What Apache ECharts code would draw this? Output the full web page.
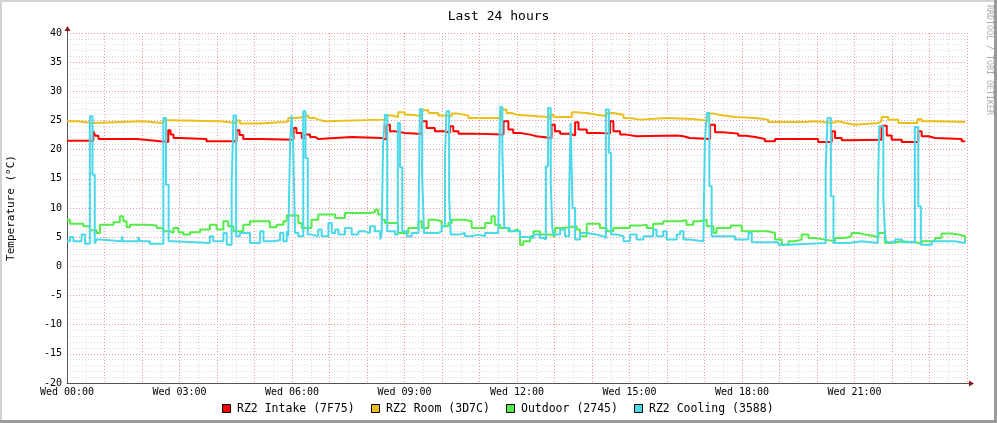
<!DOCTYPE html>
<html><head><meta charset="utf-8">
<script src="https://cdn.jsdelivr.net/npm/echarts@6/dist/echarts.min.js"></script>
<style>html,body{margin:0;padding:0;background:#fff}#c{width:997px;height:423px}</style>
</head><body><div id="c"></div>
<script>
// ---- data (hours since Wed 00:00, °C) ----
const seriesNames = ['RZ2 Intake (7F75)', 'RZ2 Room (3D7C)', 'Outdoor (2745)', 'RZ2 Cooling (3588)'];
const seriesColors = ['#FF0000', '#EAC11C', '#54EC48', '#4AD9EA'];
const xLabelHours = [0, 3, 6, 9, 12, 15, 18, 21];
const xLabelTexts = ['Wed 00:00', 'Wed 03:00', 'Wed 06:00', 'Wed 09:00', 'Wed 12:00', 'Wed 15:00', 'Wed 18:00', 'Wed 21:00'];
const yTicks = [-20, -15, -10, -5, 0, 5, 10, 15, 20, 25, 30, 35, 40];

const intake = [[0,21.55],[0.70,23.2],[0.75,22.4],[0.84,21.84],[1.86,21.61],[2.21,21.32],[2.70,23.32],[2.76,22.6],[2.84,22.0],[3.01,21.84],[3.72,21.44],[4.52,23.32],[4.60,22.5],[4.70,21.84],[5.15,21.72],[6.04,23.72],[6.12,22.87],[6.26,22.0],[6.35,22.6],[6.48,22.18],[6.61,21.84],[6.70,22.18],[7.59,22.0],[8.39,21.72],[8.52,24.29],[8.61,23.15],[8.75,22.87],[9.01,22.69],[9.46,24.87],[9.59,23.72],[9.81,23.15],[10.08,22.87],[10.21,24.0],[10.30,23.15],[10.44,22.75],[10.79,22.58],[11.64,24.87],[11.77,23.44],[11.9,22.87],[12.08,22.58],[12.35,22.29],[12.52,22.0],[12.92,24.29],[13.01,23.15],[13.15,22.75],[13.41,22.41],[13.55,24.69],[13.64,23.44],[13.86,22.87],[14.21,22.75],[14.48,24.87],[14.57,23.15],[14.75,22.58],[14.92,22.29],[15.19,22.41],[16.26,22.29],[16.44,22.0],[16.61,21.84],[17.15,24.29],[17.28,22.98],[17.50,22.75],[17.9,22.4],[18.1,22.18],[18.35,21.84],[18.61,21.44],[18.88,21.84],[20.03,21.32],[20.39,23.15],[20.48,22.0],[20.66,21.61],[20.84,21.72],[21.72,24.12],[21.86,22.41],[21.99,21.72],[22.26,21.32],[22.70,23.15],[22.79,22.29],[22.97,22.0],[23.15,21.84],[23.86,21.44],[23.95,21.44]];

const room = [[0,24.87],[0.26,24.58],[0.70,24.87],[2.04,24.7],[2.30,24.58],[2.57,25.04],[2.75,24.87],[4.08,24.58],[4.52,24.98],[4.61,24.47],[5.15,24.75],[5.81,24.87],[5.90,25.44],[6.08,25.61],[6.35,25.84],[6.44,25.44],[6.61,25.15],[6.70,24.87],[6.88,25.15],[8.48,25.84],[8.66,25.61],[8.83,26.41],[9.01,26.0],[9.19,25.72],[9.46,26.75],[9.64,26.29],[9.90,25.84],[10.17,25.72],[10.26,26.18],[10.44,25.84],[10.70,25.44],[11.50,25.27],[11.59,26.87],[11.72,26.29],[11.85,26.0],[11.99,25.84],[12.26,25.61],[12.79,25.27],[12.88,26.0],[12.97,25.61],[13.46,26.41],[13.59,26.29],[13.86,26.0],[14.12,25.72],[14.39,26.29],[14.57,26.0],[14.84,25.44],[15.01,25.15],[15.28,25.44],[15.99,25.27],[16.70,25.04],[16.97,24.87],[17.10,26.18],[17.24,25.84],[17.50,25.61],[17.81,25.44],[18.35,25.15],[18.70,24.75],[19.68,24.87],[19.95,24.58],[20.39,24.87],[20.57,24.58],[20.75,24.29],[21.01,24.58],[21.64,24.87],[21.72,25.61],[21.90,25.15],[22.17,24.58],[22.68,25.27],[22.79,24.87],[23.15,24.75],[23.95,24.75]];

const outdoor = [[0,8.0],[0.08,7.32],[0.44,6.87],[0.61,6.18],[0.79,5.72],[0.88,7.15],[1.24,7.55],[1.41,8.58],[1.50,7.72],[1.59,6.69],[1.68,7.15],[2.12,6.98],[2.39,6.58],[2.57,6.0],[2.75,5.72],[2.84,6.58],[2.97,5.84],[3.10,5.44],[3.28,5.84],[3.55,6.3],[3.81,7.15],[3.99,6.3],[4.17,7.72],[4.30,6.87],[4.44,6.0],[4.70,7.15],[4.88,7.72],[5.41,6.69],[5.59,7.15],[5.77,7.72],[5.86,8.7],[6.17,7.44],[6.26,6.58],[6.52,8.0],[6.70,8.87],[7.15,8.29],[7.41,9.15],[8.04,9.27],[8.21,9.72],[8.30,8.87],[8.39,8.0],[8.48,7.44],[8.83,5.72],[9.10,6.58],[9.37,7.72],[9.46,6.58],[9.64,8.0],[9.81,7.72],[9.99,6.87],[10.17,7.44],[10.26,8.0],[10.61,7.72],[10.79,6.58],[11.15,7.44],[11.32,8.58],[11.41,7.15],[11.55,6.58],[11.77,6.0],[11.85,6.3],[11.99,6.0],[12.08,3.72],[12.17,4.29],[12.35,5.15],[12.44,6.0],[12.61,5.44],[12.88,5.15],[13.01,6.58],[13.23,6.87],[13.59,6.3],[13.68,5.15],[13.86,7.32],[14.21,6.58],[14.39,6.0],[14.57,6.58],[15.01,6.98],[15.28,7.15],[15.46,6.58],[15.63,7.32],[15.90,7.72],[16.35,7.89],[16.52,7.15],[16.70,7.72],[16.88,8.0],[17.06,6.87],[17.24,5.72],[17.32,6.58],[17.70,7.0],[17.99,6.0],[18.70,5.72],[18.88,4.58],[19.06,3.72],[19.24,4.29],[19.41,4.58],[19.59,5.44],[19.77,4.87],[19.95,4.58],[20.21,4.29],[20.48,4.87],[20.75,5.15],[20.92,5.72],[21.10,5.44],[21.28,5.15],[21.55,4.87],[21.64,5.72],[21.81,4.01],[21.99,4.29],[22.26,4.12],[22.61,3.89],[22.79,4.29],[23.15,4.87],[23.32,5.61],[23.59,5.44],[23.77,5.15],[23.95,4.58]];

const cooling = [[0,4.29],[0.08,5.04],[0.17,4.29],[0.39,5.44],[0.48,3.89],[0.61,25.72],[0.68,15.72],[0.74,3.89],[0.79,4.58],[0.88,4.29],[1.46,5.15],[1.50,4.29],[1.90,5.04],[1.95,4.29],[2.21,3.89],[2.57,25.44],[2.64,14.0],[2.71,4.29],[2.84,4.0],[3.81,5.15],[3.90,4.29],[4.17,5.72],[4.26,3.72],[4.39,14.0],[4.44,25.84],[4.51,5.15],[4.61,5.72],[4.88,4.0],[5.15,6.0],[5.24,4.29],[5.50,4.47],[5.68,5.72],[5.77,4.29],[5.86,6.0],[5.90,5.15],[5.95,21.15],[5.99,25.9],[6.03,21.15],[6.08,5.72],[6.17,5.15],[6.30,26.58],[6.36,18.58],[6.42,5.44],[6.52,5.15],[6.70,6.3],[6.79,5.15],[6.97,7.44],[7.06,5.72],[7.15,6.3],[7.24,5.44],[7.41,6.58],[7.59,5.44],[7.77,6.0],[7.95,5.72],[8.08,6.87],[8.21,6.0],[8.35,4.58],[8.39,5.72],[8.43,21.15],[8.48,26.0],[8.54,6.0],[8.75,5.44],[8.82,24.58],[8.88,17.0],[8.94,6.0],[9.06,5.15],[9.19,5.72],[9.37,6.0],[9.41,26.98],[9.47,15.44],[9.52,5.72],[9.90,6.0],[9.99,6.87],[10.08,18.87],[10.12,26.58],[10.19,12.0],[10.23,5.44],[10.44,5.72],[10.61,5.15],[10.79,5.44],[10.97,5.15],[11.15,5.72],[11.50,6.0],[11.55,27.32],[11.61,20.0],[11.66,6.58],[11.81,6.0],[12.08,5.04],[12.26,4.87],[12.44,5.44],[12.61,4.87],[12.70,4.58],[12.77,17.15],[12.83,27.15],[12.90,14.29],[12.94,6.58],[12.97,5.44],[13.15,6.3],[13.28,5.15],[13.39,12.0],[13.43,24.58],[13.48,10.0],[13.55,4.58],[13.68,5.72],[13.86,5.44],[14.12,5.15],[14.30,4.87],[14.37,26.87],[14.45,19.44],[14.51,5.44],[14.66,5.15],[14.84,4.29],[15.01,5.44],[15.19,4.58],[15.37,5.15],[15.63,6.3],[15.72,5.15],[15.90,6.0],[15.99,4.58],[16.26,5.44],[16.35,6.0],[16.44,4.58],[16.61,4.29],[16.97,4.58],[17.01,21.15],[17.06,26.29],[17.13,13.72],[17.19,5.15],[17.81,4.58],[18.17,5.72],[18.26,4.12],[18.97,3.72],[19.24,4.0],[20.23,16.58],[20.28,25.44],[20.37,12.0],[20.44,4.0],[20.84,4.29],[21.19,4.0],[21.62,11.44],[21.66,24.0],[21.77,11.44],[21.82,5.0],[21.86,4.12],[22.08,4.58],[22.26,4.12],[22.61,23.89],[22.70,10.29],[22.77,3.72],[23.06,4.29],[23.68,4.0],[23.95,4.58]];

const seriesData = [intake, room, outdoor, cooling];

// ---- chart ----
const MONO = '"DejaVu Sans Mono", monospace';
const chart = echarts.init(document.getElementById('c'), null, {renderer: 'canvas'});
const legendX = [222, 371, 506, 634];
const graphics = [
  {type: 'rect', shape: {x: 0, y: 0, width: 997, height: 2}, style: {fill: '#d2d2d2'}, silent: true},
  {type: 'rect', shape: {x: 0, y: 0, width: 2, height: 423}, style: {fill: '#d2d2d2'}, silent: true},
  {type: 'rect', shape: {x: 994, y: 0, width: 3, height: 423}, style: {fill: '#9a9a9a'}, silent: true},
  {type: 'rect', shape: {x: 0, y: 420, width: 997, height: 3}, style: {fill: '#9a9a9a'}, silent: true},
  // axis extensions & arrows
  {type: 'line', shape: {x1: 67.5, y1: 33, x2: 67.5, y2: 30}, style: {stroke: '#555', lineWidth: 1}},
  {type: 'polygon', shape: {points: [[64.5, 31], [70.5, 31], [67.5, 26]]}, style: {fill: '#8B1A1A'}},
  {type: 'line', shape: {x1: 967, y1: 383.5, x2: 970, y2: 383.5}, style: {stroke: '#555', lineWidth: 1}},
  {type: 'polygon', shape: {points: [[969, 380.5], [969, 386.5], [974, 383.5]]}, style: {fill: '#8B1A1A'}},
  {type: 'text', x: 989, y: 5, rotation: -Math.PI / 2,
    style: {text: 'RRDTOOL / TOBI OETIKER', fill: '#ababab', font: '8.3px ' + MONO, textAlign: 'left', textVerticalAlign: 'middle'}}
];
seriesNames.forEach((n, i) => {
  graphics.push({type: 'rect', shape: {x: legendX[i] + 0.5, y: 404.5, width: 8, height: 8},
    style: {fill: seriesColors[i], stroke: '#000', lineWidth: 1}});
  graphics.push({type: 'text', x: legendX[i] + 15, y: 409,
    style: {text: n, fill: '#000', font: '11.5px ' + MONO, textVerticalAlign: 'middle'}});
});

chart.setOption({
  animation: false,
  backgroundColor: '#fff',
  title: {text: 'Last 24 hours', left: 'center', top: 5,
    textStyle: {fontFamily: MONO, fontSize: 13, fontWeight: 'normal', color: '#000'}},
  grid: {left: 67, right: 30, top: 33, bottom: 40, containLabel: false, outerBoundsMode: 'none'},
  xAxis: {
    type: 'value', min: 0, max: 24, interval: 1,
    axisLine: {show: true, onZero: false, lineStyle: {color: '#555', width: 1}},
    axisTick: {show: false},
    minorTick: {show: false, splitNumber: 2},
    axisLabel: {margin: 4, fontFamily: MONO, fontSize: 10, color: '#000', showMaxLabel: false,
      formatter: v => { const k = xLabelHours.indexOf(v); return k >= 0 ? xLabelTexts[k] : ''; }},
    splitLine: {show: true, lineStyle: {color: '#E89A9A', type: [1, 2], width: 1}},
    minorSplitLine: {show: true, lineStyle: {color: '#DADADA', type: [1, 2], width: 1}}
  },
  yAxis: {
    type: 'value', min: yTicks[0], max: yTicks[yTicks.length - 1], interval: 5,
    name: 'Temperature (°C)', nameLocation: 'middle', nameRotate: 90, nameGap: 50,
    nameTextStyle: {fontFamily: MONO, fontSize: 11, color: '#000'},
    axisLine: {show: true, onZero: false, lineStyle: {color: '#555', width: 1}},
    axisTick: {show: false},
    minorTick: {show: false, splitNumber: 5},
    axisLabel: {margin: 5, fontFamily: MONO, fontSize: 10, color: '#000'},
    splitLine: {show: true, lineStyle: {color: '#E89A9A', type: [1, 2], width: 1}},
    minorSplitLine: {show: true, lineStyle: {color: '#DADADA', type: [1, 2], width: 1}}
  },
  series: seriesData.map((d, i) => ({
    name: seriesNames[i], type: 'line', step: 'end', data: d,
    showSymbol: false, symbol: 'none', color: seriesColors[i],
    lineStyle: {width: 2, color: seriesColors[i]}, z: 2 + i
  })),
  graphic: graphics
});
</script></body></html>
